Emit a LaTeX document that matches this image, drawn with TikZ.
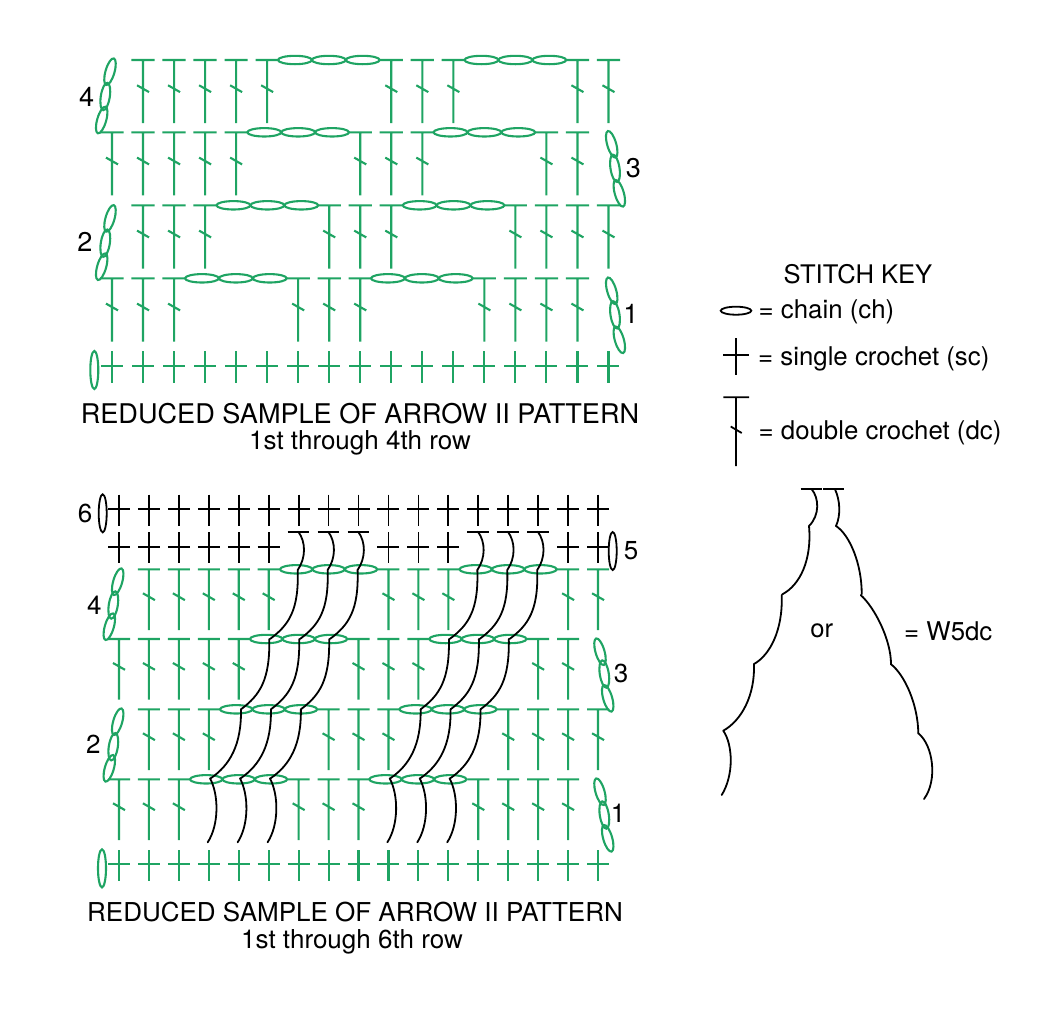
\documentclass[tikz,border=0pt]{standalone}
\usepackage{fontspec}
\setmainfont{TeX Gyre Heros}
\definecolor{grn}{HTML}{1FA463}
\tikzset{
  gl/.style={draw=grn,line width=2.1pt},
  bl/.style={draw=black,line width=1.8pt},
  cv/.style={draw=black,line width=1.8pt,line cap=round},
  txa/.style={font=\fontsize{27.1}{30}\selectfont,inner sep=0pt,text=black},
  txb/.style={font=\fontsize{26}{30}\selectfont,inner sep=0pt,text=black},
  txc/.style={font=\fontsize{25.6}{30}\selectfont,inner sep=0pt,text=black},
  txk/.style={font=\fontsize{25.8}{30}\selectfont,inner sep=0pt,text=black,anchor=west},
}
% x0, dx, y, stem length, tick offset, half bar, column list
\newcommand{\dcrow}[7]{\foreach \i in {#7}{%
  \pgfmathsetmacro{\xx}{#1+\i*#2}%
  \draw[gl] (\xx-#6,#3) -- (\xx+#6,#3) (\xx,#3) -- (\xx,#3+#4)
            (\xx-6,#3+#5-3.4) -- (\xx+6,#3+#5+3.4);}}
% x start, y, width of one chain
\newcommand{\chainrow}[3]{\foreach \k in {0,1,2}{%
  \pgfmathsetmacro{\xx}{#1+\k*#3+#3/2}%
  \draw[gl] (\xx,#2) ellipse [x radius=#3/2*1pt,y radius=4.2pt];}}
% x0, dx, y, top, bottom, first, last, style
\newcommand{\scrow}[8]{\foreach \i in {#6,...,#7}{%
  \pgfmathsetmacro{\xx}{#1+\i*#2}%
  \draw[#8] (\xx-11,#3) -- (\xx+11,#3) (\xx,#4) -- (\xx,#5);}}
% turning chain: three tilted ellipses
\newcommand{\turnch}[7]{%
  \draw[gl,shift={(#1,#2)},rotate=#7] (0,0) ellipse [x radius=4.5pt,y radius=13.8pt];
  \draw[gl,shift={(#3,#4)},rotate=#7*0.55] (0,0) ellipse [x radius=4.5pt,y radius=13.8pt];
  \draw[gl,shift={(#5,#6)},rotate=#7] (0,0) ellipse [x radius=4.5pt,y radius=13.8pt];}
% wrapped double crochet, shifted by x
\newcommand{\wrapdc}[1]{\begin{scope}[xshift=#1pt]
  \draw[bl] (287.7,531.7) -- (309,531.7);
  \draw[cv] (298.3,531.7) .. controls (306,542) and (306,558) .. (297.7,570)
            .. controls (299,610) and (289,625) .. (270,639);
  \draw[cv] (269.3,639) .. controls (270,680) and (260,695) .. (241,709.3);
  \draw[cv] (241,709.3) .. controls (241.5,745) and (230,765) .. (210.7,778.3);
  \draw[cv] (210,778.3) .. controls (219,795) and (219,825) .. (207.7,842.3);
\end{scope}}
\begin{document}
\begin{tikzpicture}[x=1pt,y=-1pt]
\useasboundingbox (0,0) rectangle (1062,1026);
% ===== top chart =====
\def\xa{112} \def\da{31.03}
\dcrow{\xa}{\da}{60}{63}{28.7}{11.6}{1,2,3,4,5,9,10,11,15,16}
\dcrow{\xa}{\da}{132.3}{63}{28.7}{11.6}{0,1,2,3,4,8,9,10,14,15}
\dcrow{\xa}{\da}{205.3}{63.4}{28.7}{11.6}{1,2,3,7,8,9,13,14,15,16}
\dcrow{\xa}{\da}{278.3}{63.4}{28.7}{11.6}{0,1,2,6,7,8,12,13,14,15}
\chainrow{278}{60}{33.9} \chainrow{464.5}{60}{33.9}
\chainrow{247.3}{132.3}{33.9} \chainrow{433.5}{132.3}{33.9}
\chainrow{216.5}{205.3}{33.9} \chainrow{402.7}{205.3}{33.9}
\chainrow{185}{278.3}{33.9} \chainrow{371}{278.3}{33.9}
\scrow{\xa}{\da}{366}{351}{383}{0}{16}{gl}
\draw[gl] (94.3,370) ellipse [x radius=4pt,y radius=19pt];
\turnch{110}{71.7}{105.3}{96.5}{101.7}{120}{-16}
\turnch{110}{218.4}{105.3}{243.2}{101.7}{266.7}{-16}
\turnch{611.7}{144.3}{615}{168.3}{619.3}{193.3}{16}
\turnch{611.7}{290.8}{615}{314.8}{619.3}{339.8}{16}
\node[txa] (n4a) at (86.7,96.7) {4};
\node[txa] (n2a) at (85,241.7) {2};
\node[txa] (n3a) at (633.3,168.3) {3};
\node[txa] (n1a) at (631,314) {1};
\node[txa] (ta1) at (360,414) {REDUCED SAMPLE OF ARROW II PATTERN};
\node[txb] (ta2) at (360,443) {1st through 4th row};
% ===== bottom chart =====
\def\xb{119} \def\db{29.94}
\dcrow{\xb}{\db}{569.3}{60.7}{27.4}{11}{1,2,3,4,5,9,10,11,15,16}
\dcrow{\xb}{\db}{639}{60.7}{27.4}{11}{0,1,2,3,4,8,9,10,14,15}
\dcrow{\xb}{\db}{709.3}{60.7}{27.4}{11}{1,2,3,7,8,9,13,14,15,16}
\dcrow{\xb}{\db}{779.3}{60.7}{27.4}{11}{0,1,2,6,7,8,12,13,14,15}
\chainrow{280}{569.3}{32.4} \chainrow{459.5}{569.3}{32.4}
\chainrow{250}{639}{32.4} \chainrow{429.3}{639}{32.4}
\chainrow{220}{709.3}{32.4} \chainrow{399.4}{709.3}{32.4}
\chainrow{190}{779.3}{32.4} \chainrow{369.3}{779.3}{32.4}
\scrow{\xb}{\db}{864}{850}{880.7}{0}{16}{gl}
\draw[gl] (102,868.3) ellipse [x radius=4pt,y radius=19pt];
\turnch{117.7}{581.7}{113.3}{605}{109.3}{626.7}{-16}
\turnch{117.7}{721.7}{113.3}{746.7}{109.3}{768.3}{-16}
\turnch{600}{651.7}{604.3}{674}{607.7}{698.3}{16}
\turnch{600}{791.7}{604.3}{815}{607.7}{838.3}{16}
\scrow{\xb}{\db}{509}{494.7}{525.7}{0}{16}{bl}
\scrow{\xb}{\db}{546.7}{532.3}{562.7}{0}{5}{bl}
\scrow{\xb}{\db}{546.7}{532.3}{562.7}{9}{11}{bl}
\scrow{\xb}{\db}{546.7}{532.3}{562.7}{15}{16}{bl}
\draw[bl] (102.7,513.3) ellipse [x radius=4pt,y radius=19pt];
\draw[bl] (612.7,551) ellipse [x radius=4pt,y radius=19pt];
\foreach \s in {0,1,2,6,7,8}{\pgfmathsetmacro{\sx}{\s*29.94}\wrapdc{\sx}}
\node[txb] (n6b) at (85,513.3) {6};
\node[txb] (n5b) at (631,551) {5};
\node[txb] (n4b) at (94.3,605.7) {4};
\node[txb] (n3b) at (621,673.3) {3};
\node[txb] (n2b) at (93.3,744.3) {2};
\node[txb] (n1b) at (618,813.3) {1};
\node[txb] (tb1) at (355,912) {REDUCED SAMPLE OF ARROW II PATTERN};
\node[txb] (tb2) at (352,942) {1st through 6th row};
% ===== key =====
\node[txc] (key) at (858,274) {STITCH KEY};
\draw[bl] (736,310.7) ellipse [x radius=15.3pt,y radius=4pt];
\node[txk] (kch) at (758.5,312) {= chain (ch)};
\draw[bl] (723.3,355) -- (749,355) (736,338.3) -- (736,375);
\node[txk] (ksc) at (758,359) {= single crochet (sc)};
\draw[bl] (723.3,397.3) -- (749,397.3) (736,397.3) -- (736,466) (730.7,426.5) -- (741.7,433);
\node[txk] (kdc) at (758.5,433) {= double crochet (dc)};
% ===== W5dc =====
\draw[bl] (800.7,489.3) -- (821.7,489.3) (823.3,489.3) -- (844,489.3);
\draw[cv] (811.7,489.3) .. controls (819,498) and (820,515) .. (809,526);
\draw[cv] (809,526) .. controls (812,560) and (800,585) .. (782.3,594.3);
\draw[cv] (781.7,595) .. controls (783,630) and (770,655) .. (754,664);
\draw[cv] (754,664) .. controls (755,695) and (742,720) .. (723.3,730.7);
\draw[cv] (723.3,730.7) .. controls (733,745) and (734,775) .. (721.7,795);
\draw[cv] (835,489.3) .. controls (840,500) and (841,515) .. (836,526);
\draw[cv] (836,526) .. controls (850,535) and (862,565) .. (861.7,594.3);
\draw[cv] (860.7,595) .. controls (875,608) and (891,640) .. (891,664);
\draw[cv] (890.7,664) .. controls (905,675) and (918,705) .. (918.3,733.3);
\draw[cv] (918.3,733.3) .. controls (933,745) and (938,780) .. (924,799);
\node[txc] (kor) at (821.7,631) {or};
\node[txk] (kw5) at (904,631) {= W5dc};
\end{tikzpicture}
\end{document}
